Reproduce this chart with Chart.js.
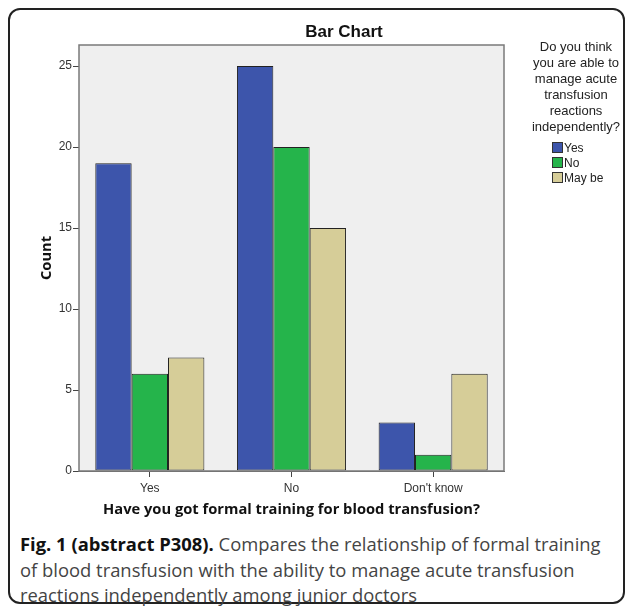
<!DOCTYPE html>
<html>
<head>
<meta charset="utf-8">
<script src="https://cdn.jsdelivr.net/npm/chart.js@4"></script>
<style>
  body { margin: 0; background: #fff; width: 627px; height: 606px; overflow: hidden; position: relative; }
  #frame { position: absolute; left: 8px; top: 8px; width: 617px; height: 596px; border: 2px solid #222; border-radius: 12px; box-sizing: border-box; }
  #wrap { position: absolute; left: 9px; top: 9px; width: 615px; height: 520px; }
  #legend { position: absolute; left: 524px; top: 39px; width: 104px; font-family: "Liberation Sans", Arial, sans-serif; color: #222; }
  #legend .ttl { text-align: center; font-size: 13px; line-height: 16px; }
  #legend .items { margin: 6px 0 0 28px; font-size: 12px; line-height: 15px; }
  #legend .sw { display: inline-block; width: 11px; height: 11px; border: 1px solid #333; box-sizing: border-box; vertical-align: -1px; margin-right: 1px; }
  #caption { position: absolute; left: 20px; top: 531px; white-space: nowrap; font-family: "Open Sans", sans-serif; font-size: 18.4px; line-height: 25.5px; color: #444; }
  #caption b { color: #111; }
</style>
</head>
<body>
<div id="frame"></div>
<div id="wrap"><canvas id="c" width="615" height="520"></canvas></div>
<div id="legend">
  <div class="ttl">Do you think<br>you are able to<br>manage acute<br>transfusion<br>reactions<br>independently?</div>
  <div class="items" id="items"></div>
</div>
<div id="caption"><b>Fig. 1 (abstract P308).</b> Compares the relationship of formal training<br>of blood transfusion with the ability to manage acute transfusion<br>reactions independently among junior doctors</div>
<script>
// categories on the x axis
const categories = ['Yes', 'No', "Don't know"];
// series = answer to "able to manage reactions independently?"
const seriesNames = ['Yes', 'No', 'May be'];
const seriesColors = ['#3d55ab', '#25b44b', '#d6cd98'];
const yesCounts = [19, 25, 3];
const noCounts = [6, 20, 1];
const maybeCounts = [7, 15, 6];
const yTicks = [0, 5, 10, 15, 20, 25];

const seriesValues = [yesCounts, noCounts, maybeCounts];

// legend built from the same arrays
document.getElementById('items').innerHTML = seriesNames.map((n, i) =>
  '<div><span class="sw" style="background:' + seriesColors[i] + '"></span>' + n + '</div>').join('');

const plotBox = {
  id: 'plotBox',
  beforeDatasetsDraw(chart) {
    const { ctx, chartArea: a } = chart;
    ctx.save();
    ctx.fillStyle = '#efefef';
    ctx.fillRect(a.left, a.top, a.right - a.left, a.bottom - a.top);
    ctx.restore();
  },
  afterDatasetsDraw(chart) {
    const { ctx, chartArea: a } = chart;
    ctx.save();
    ctx.strokeStyle = '#7a7a7a';
    ctx.lineWidth = 1.5;
    ctx.strokeRect(a.left, a.top, a.right - a.left, a.bottom - a.top);
    ctx.restore();
  },
  afterDraw(chart) {
    // SPSS centres the title over plot + legend
    const { ctx } = chart;
    ctx.save();
    ctx.font = 'bold 17px "Liberation Sans", Arial, sans-serif';
    ctx.fillStyle = '#111';
    ctx.textAlign = 'center';
    ctx.textBaseline = 'middle';
    ctx.fillText('Bar Chart', 335, 23);
    ctx.restore();
  }
};

new Chart(document.getElementById('c'), {
  type: 'bar',
  data: {
    labels: categories,
    datasets: seriesNames.map((n, i) => ({
      label: n,
      data: seriesValues[i],
      backgroundColor: seriesColors[i],
      borderColor: '#222',
      borderWidth: 1,
      borderSkipped: false,
      barPercentage: 1,
      categoryPercentage: 0.77
    }))
  },
  options: {
    responsive: false,
    animation: false,
    layout: { padding: { top: 36, right: 120, left: 0, bottom: 0 } },
    plugins: { legend: { display: false }, title: { display: false }, tooltip: { enabled: false } },
    scales: {
      x: {
        afterFit: s => { s.height = 58; },
        grid: { display: true, offset: false, drawOnChartArea: false, drawTicks: true, tickLength: 6, color: '#444' },
        border: { display: true, color: '#666' },
        ticks: { padding: 4, color: '#333', font: { family: '"Liberation Sans", Arial, sans-serif', size: 12 } },
        title: { display: true, text: 'Have you got formal training for blood transfusion?', color: '#111',
                 padding: { top: 0, bottom: 10 }, font: { family: '"Open Sans", sans-serif', size: 14.7, weight: 'bold' } }
      },
      y: {
        min: 0,
        max: 26.3,
        afterFit: s => { s.width = 70; },
        afterBuildTicks: s => { s.ticks = yTicks.map(v => ({ value: v })); },
        grid: { display: true, drawOnChartArea: false, drawTicks: true, tickLength: 6, color: '#444' },
        border: { display: true, color: '#666' },
        ticks: { padding: 1, color: '#333', font: { family: '"Liberation Sans", Arial, sans-serif', size: 12 } },
        title: { display: true, text: 'Count', color: '#111',
                 padding: { top: 29, bottom: 0 }, font: { family: '"Open Sans", sans-serif', size: 14.7, weight: 'bold' } }
      }
    }
  },
  plugins: [plotBox]
});
</script>
</body>
</html>
